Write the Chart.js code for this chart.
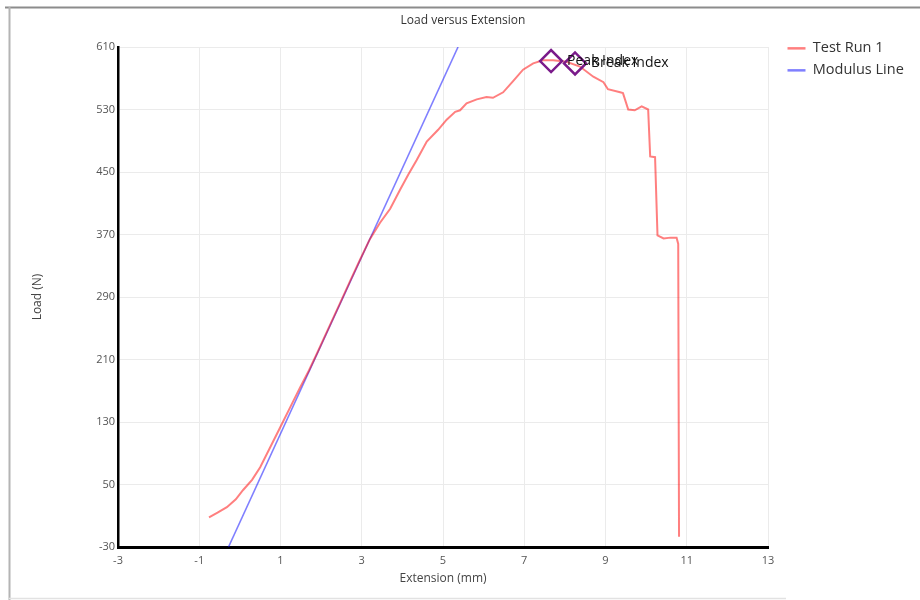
<!DOCTYPE html>
<html><head><meta charset="utf-8">
<script src="https://cdn.jsdelivr.net/npm/chart.js@4/dist/chart.umd.min.js"></script>
<style>html,body{margin:0;padding:0;background:#fff}#wrap{width:920px;height:600px}</style>
</head><body><div id="wrap"><canvas id="c" width="920" height="600"></canvas></div>
<script>
const chartTitle = 'Load versus Extension';
const xAxisTitle = 'Extension (mm)';
const yAxisTitle = 'Load (N)';
const seriesNames = ['Test Run 1', 'Modulus Line'];
const testExtension = [-0.76,-0.55,-0.32,-0.1,0.08,0.3,0.5,0.75,1.0,1.25,1.48,1.7,1.9,2.2,2.5,2.71,2.96,3.2,3.45,3.7,3.94,4.15,4.35,4.6,4.88,5.09,5.3,5.42,5.58,5.83,6.07,6.23,6.48,6.72,6.97,7.22,7.46,7.71,8.04,8.37,8.7,8.95,9.06,9.36,9.43,9.56,9.72,9.89,10.05,10.1,10.22,10.28,10.43,10.6,10.75,10.79,10.81];
const testLoad = [8,14,21,31,43,56,72,98,124,150,174,196,218,252,286,310,338,364,385,403,427,447,465,489,504,517,527,529,538,543,546,545,552,566,581,589,593,593,591,585,572,565,556,552,551,530,529,534,530,470,469,369,365,366,366,358,-17];
const modulusExtension = [-0.28, 5.37];
const modulusLoad = [-30, 610];
const markerNames = ['Peak Index', 'Break Index'];
const markerExtension = [7.66, 8.25];
const markerLoad = [592, 589];
const xTicks = [-3,-1,1,3,5,7,9,11,13];
const yTicks = [-30,50,130,210,290,370,450,530,610];

const toXY = (xs, ys) => xs.map((x, i) => ({x, y: ys[i]}));
const FONT = "'Open Sans', 'Liberation Sans', sans-serif";

const framePlugin = {
  id: 'frame',
  beforeLayout(chart) {
    const lg = chart.legend;
    if (lg && !lg._fixedWidth) {
      const fit = lg.fit.bind(lg);
      lg.fit = function () { fit(); this.width = 152; };
      lg._fixedWidth = true;
    }
  },
  afterLayout(chart) {
    const lg = chart.legend;
    if (lg) { lg.left += 12; }
  },
  beforeDraw(chart) {
    const ctx = chart.ctx;
    ctx.save();
    ctx.fillStyle = '#fff';
    ctx.fillRect(0, 0, chart.width, chart.height);
    ctx.lineWidth = 2;
    ctx.strokeStyle = '#8c8c8c';
    ctx.beginPath(); ctx.moveTo(5, 7.5); ctx.lineTo(920, 7.5); ctx.stroke();
    ctx.strokeStyle = '#b4b4b4';
    ctx.beginPath(); ctx.moveTo(9.5, 7); ctx.lineTo(9.5, 600); ctx.stroke();
    ctx.lineWidth = 1.5;
    ctx.strokeStyle = '#e2e2e2';
    ctx.beginPath(); ctx.moveTo(9, 598.5); ctx.lineTo(786, 598.5); ctx.stroke();
    ctx.restore();
  }
};

const markerLabelPlugin = {
  id: 'markerLabels',
  afterDatasetsDraw(chart) {
    const ctx = chart.ctx;
    chart.data.datasets.forEach((ds, di) => {
      if (!ds.pointLabels) return;
      const meta = chart.getDatasetMeta(di);
      ctx.save();
      ctx.font = '14px ' + FONT;
      ctx.fillStyle = '#111';
      ctx.textBaseline = 'middle';
      ctx.textAlign = 'left';
      meta.data.forEach((el, i) => {
        ctx.fillText(ds.pointLabels[i], el.x + 16, el.y);
      });
      ctx.restore();
    });
  }
};

new Chart(document.getElementById('c'), {
  type: 'line',
  data: {
    datasets: [
      {
        label: seriesNames[0],
        data: toXY(testExtension, testLoad),
        borderColor: 'rgba(255,0,0,0.5)',
        backgroundColor: 'rgba(255,0,0,0.5)',
        borderWidth: 2,
        pointRadius: 0,
        tension: 0,
        order: 1
      },
      {
        label: seriesNames[1],
        data: toXY(modulusExtension, modulusLoad),
        borderColor: 'rgba(0,0,255,0.5)',
        backgroundColor: 'rgba(0,0,255,0.5)',
        borderWidth: 1.6,
        pointRadius: 0,
        order: 2
      },
      {
        label: 'markers',
        data: toXY(markerExtension, markerLoad),
        pointLabels: markerNames,
        showLine: false,
        pointStyle: 'rectRot',
        pointRadius: 11,
        pointHoverRadius: 11,
        pointBorderWidth: 2.5,
        pointBorderColor: '#7a1a8a',
        pointBackgroundColor: 'rgba(0,0,0,0)',
        order: 0
      }
    ]
  },
  options: {
    responsive: false,
    animation: false,
    devicePixelRatio: 1,
    layout: { padding: { left: 6, right: 0, top: 0, bottom: 10 } },
    plugins: {
      title: {
        display: true,
        text: chartTitle,
        color: '#333',
        font: { family: FONT, size: 12, weight: 'normal' },
        padding: { top: 13, bottom: 19.6 }
      },
      legend: {
        position: 'right',
        align: 'start',
        title: { display: true, text: '', font: { family: FONT, size: 13 }, padding: { top: 18, bottom: 0 } },
        labels: {
          color: '#333',
          font: { family: FONT, size: 14.5 },
          boxWidth: 18,
          boxHeight: 2.5,
          padding: 7.5,
          generateLabels(chart) {
            return Chart.defaults.plugins.legend.labels.generateLabels(chart)
              .filter(l => l.datasetIndex < 2)
              .map(l => ({...l, lineWidth: 0, fillStyle: l.strokeStyle}));
          }
        }
      },
      tooltip: { enabled: false }
    },
    scales: {
      x: {
        type: 'linear',
        min: xTicks[0],
        max: xTicks[xTicks.length - 1],
        afterBuildTicks(s) { s.ticks = xTicks.map(v => ({value: v})); },
        afterFit(s) { s.height = 43; },
        grid: { color: '#ebebeb', drawTicks: false, lineWidth: 1 },
        border: { color: '#000', width: 3 },
        ticks: { color: '#555', font: { family: FONT, size: 11 }, padding: 7, maxRotation: 0 },
        title: { display: true, text: xAxisTitle, color: '#444', font: { family: FONT, size: 12 }, padding: { top: 0, bottom: 4 } }
      },
      y: {
        type: 'linear',
        min: yTicks[0],
        max: yTicks[yTicks.length - 1],
        afterBuildTicks(s) { s.ticks = yTicks.map(v => ({value: v})); },
        afterFit(s) { s.width = 112; },
        grid: { color: '#ebebeb', drawTicks: false, lineWidth: 1 },
        border: { color: '#000', width: 2.5 },
        ticks: { color: '#555', font: { family: FONT, size: 11 }, padding: 3 },
        title: { display: true, text: yAxisTitle, color: '#444', font: { family: FONT, size: 12 }, padding: { top: 24, bottom: 0 } }
      }
    }
  },
  plugins: [framePlugin, markerLabelPlugin]
});
</script>
</body></html>
